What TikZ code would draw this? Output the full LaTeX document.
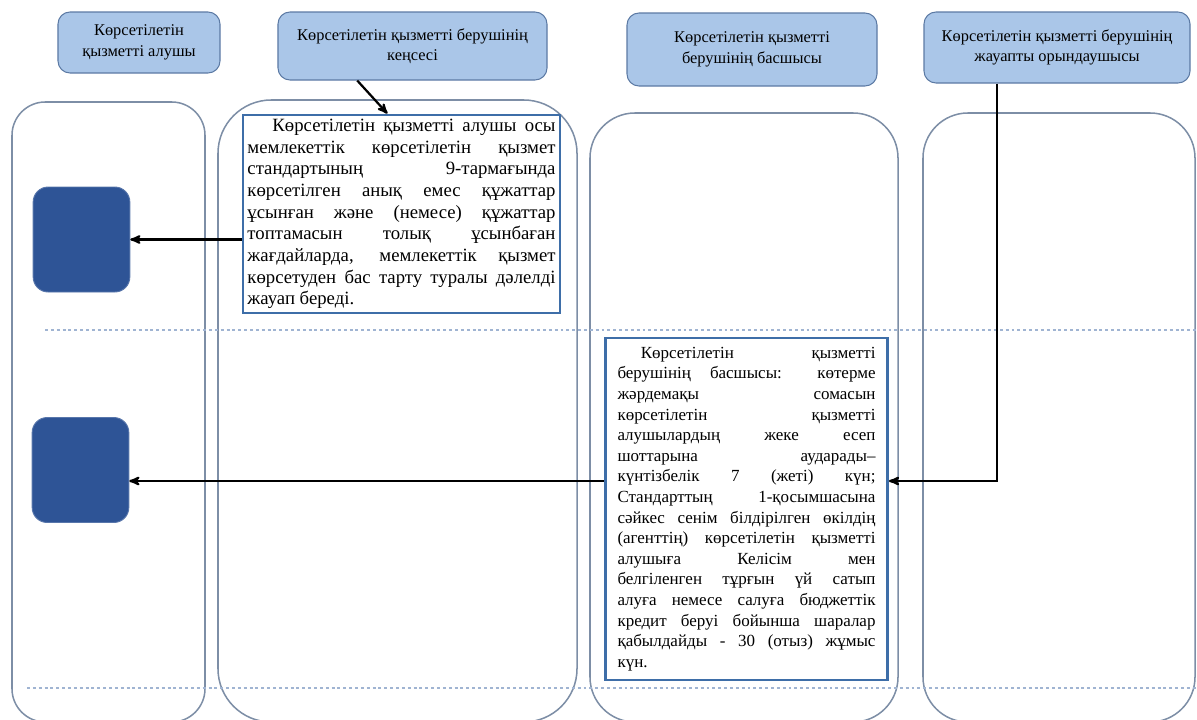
\documentclass[tikz,border=0pt]{standalone}
\usepackage{fontspec}
\setmainfont{Liberation Serif}
\usetikzlibrary{arrows}

\definecolor{headfill}{RGB}{170,198,232}
\definecolor{headline}{RGB}{92,122,164}
\definecolor{laneline}{RGB}{125,142,166}
\definecolor{boxline}{RGB}{62,110,168}
\definecolor{endfill}{RGB}{46,84,150}
\definecolor{sepline}{RGB}{160,180,210}
\tolerance=10000
\hbadness=10000

\begin{document}
\begin{tikzpicture}[x=0.03cm,y=-0.03cm,>=stealth',
  head node/.style={rectangle,rounded corners=0.36cm,fill=headfill,draw=headline,line width=0.9pt,
    inner sep=0pt,align=center,font={\fontsize{14}{17.5}\selectfont}},
  lane node/.style={rectangle,draw=laneline,line width=1.3pt,inner sep=0pt},
  text node/.style={rectangle,draw=boxline,line width=2.4pt,fill=white,inner ysep=0pt,align=justify},
  end node/.style={rectangle,rounded corners=0.45cm,fill=endfill,draw=endfill!80!white,line width=0.8pt,
    inner sep=0pt,minimum width=2.9cm,minimum height=3.15cm},
  sep line/.style={draw=sepline,line width=1.6pt,dash pattern=on 2.5pt off 2.5pt},
  flow/.style={->,draw=black,line width=1.9pt}]
  \useasboundingbox (0,0) rectangle (1197,719);

  % swimlanes
  \node[lane node,rounded corners=1.0cm,minimum width=5.79cm,minimum height=18.6cm] (lane1) at (108.5,412) {};
  \node[lane node,rounded corners=1.6cm,minimum width=10.77cm,minimum height=18.66cm] (lane2) at (397.5,411) {};
  \node[lane node,rounded corners=1.35cm,minimum width=9.24cm,minimum height=18.27cm] (lane3) at (744,417.5) {};
  \node[lane node,rounded corners=1.35cm,minimum width=8.16cm,minimum height=18.27cm] (lane4) at (1059,417.5) {};

  \draw[sep line] (45,330) -- (1197,330);
  \draw[sep line] (27,688) -- (1197,688);

  % lane heads
  \node[head node,minimum width=4.86cm,minimum height=1.83cm] (h1) at (139,42.5) {Көрсетілетін\\қызметті алушы};
  \node[head node,minimum width=8.07cm,minimum height=2.04cm] (h2) at (412.5,46) {Көрсетілетін қызметті берушінің\\кеңсесі};
  \node[head node,minimum width=7.5cm,minimum height=2.19cm] (h3) at (752,49.5) {Көрсетілетін қызметті\\берушінің басшысы};
  \node[head node,minimum width=7.98cm,minimum height=2.13cm] (h4) at (1057,47.5) {Көрсетілетін қызметті берушінің\\жауапты орындаушысы};

  % steps
  \node[text node,text width=9.24cm,inner xsep=0.135cm,minimum height=5.94cm,
    font={\fontsize{16}{18.5}\selectfont}] (box1) at (401.5,214)
    {\hspace*{0.75cm}Көрсетілетін қызметті алушы осы\linebreak
     мемлекеттік көрсетілетін қызмет\linebreak
     стандартының 9-тармағында\linebreak
     көрсетілген анық емес құжаттар\linebreak
     ұсынған және (немесе) құжаттар\linebreak
     топтамасын толық ұсынбаған\linebreak
     жағдайларда, мемлекеттік қызмет\linebreak
     көрсетуден бас тарту туралы дәлелді\linebreak
     жауап береді.};
  \node[text node,text width=7.74cm,inner xsep=0.36cm,minimum height=10.26cm,
    font={\fontsize{14.5}{17.6}\selectfont}] (box2) at (746.5,509)
    {\hspace*{0.7cm}Көрсетілетін қызметті\linebreak
     берушінің басшысы: көтерме\linebreak
     жәрдемақы сомасын\linebreak
     көрсетілетін қызметті\linebreak
     алушылардың жеке есеп\linebreak
     шоттарына аударады–\linebreak
     күнтізбелік 7 (жеті) күн;\linebreak
     Стандарттың 1-қосымшасына\linebreak
     сәйкес сенім білдірілген өкілдің\linebreak
     (агенттің) көрсетілетін қызметті\linebreak
     алушыға Келісім мен\linebreak
     белгіленген тұрғын үй сатып\linebreak
     алуға немесе салуға бюджеттік\linebreak
     кредит беруі бойынша шаралар\linebreak
     қабылдайды - 30 (отыз) жұмыс\linebreak
     күн.};

  % results
  \node[end node] (d1) at (81.5,239.5) {};
  \node[end node] (d2) at (80.5,470) {};

  \coordinate (j2) at (997,481);

  \draw[flow] (h2.212) -- (box1.98);
  \draw[flow] (box1.west |- d1.east) -- (d1.east);
  \draw[flow] (h4.south -| j2) -- (j2) -- (box2.east |- j2);
  \draw[flow] (box2.west |- j2) -- (d2.east |- j2);
\end{tikzpicture}
\end{document}
